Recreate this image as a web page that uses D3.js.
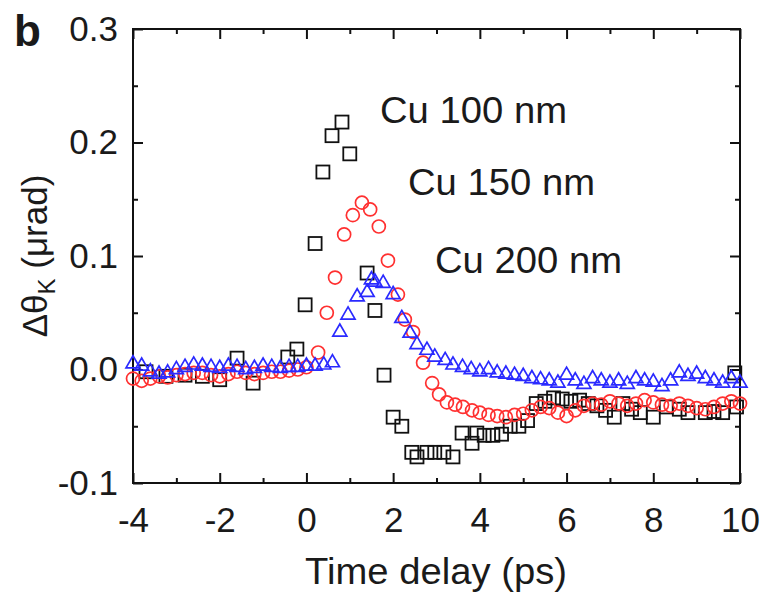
<!DOCTYPE html>
<html>
<head>
<meta charset="utf-8">
<script src="https://cdn.jsdelivr.net/npm/d3@7/dist/d3.min.js"></script>
<style>
  body { margin: 0; background: #fff; }
  svg { display: block; }
  text { font-family: "Liberation Sans", Arial, sans-serif; fill: #1a1a1a; }
</style>
</head>
<body>
<svg width="764" height="594"></svg>
<script>
// Cu 100 nm (black squares)
var t100 = [-3.7, -3.24, -2.8, -2.4, -2.0, -1.6, -1.23, -0.43, -0.22, -0.03, 0.2, 0.38, 0.59, 0.82, 1.0, 1.4, 1.58,
            1.79, 2.0, 2.2, 2.43, 2.55, 2.78, 2.96, 3.17, 3.38, 3.59, 3.82, 3.93, 4.1, 4.3, 4.5, 4.7, 4.9, 5.1,
            5.3, 5.5, 5.7, 5.9, 6.1, 6.3, 6.5, 6.7, 6.9, 7.1, 7.3, 7.5, 7.7, 8.0, 8.3, 8.6, 8.8, 9.2, 9.4, 9.6, 9.88, 9.92];
var v100 = [-0.002, -0.006, -0.005, -0.006, -0.009, 0.010, -0.012, 0.011, 0.018, 0.057, 0.111, 0.174, 0.206, 0.218, 0.190, 0.085, 0.052,
            -0.005, -0.042, -0.050, -0.073, -0.077, -0.073, -0.073, -0.073, -0.077, -0.056, -0.065, -0.056, -0.058, -0.058, -0.057, -0.050, -0.050, -0.045,
            -0.030, -0.028, -0.025, -0.026, -0.028, -0.027, -0.030, -0.032, -0.036, -0.042, -0.030, -0.035, -0.038, -0.042, -0.033, -0.035, -0.038, -0.038, -0.037, -0.038, -0.003, -0.033];

// Cu 150 nm (red circles)
var t150 = [-4.0, -3.8, -3.6, -3.4, -3.2, -3.0, -2.8, -2.6, -2.4, -2.2, -2.0, -1.8, -1.6, -1.4, -1.2, -1.0, -0.8, -0.6, -0.4, -0.2, 0.0,
            0.27, 0.47, 0.66, 0.87, 1.07, 1.28, 1.47, 1.67, 1.88, 2.11, 2.27, 2.46, 2.69, 2.9, 3.06, 3.24, 3.43, 3.61, 3.82, 4.0,
            4.2, 4.4, 4.6, 4.8, 5.0, 5.2, 5.4, 5.6, 5.8, 6.0, 6.2, 6.4, 6.6, 6.8, 7.0, 7.2, 7.4, 7.6, 7.8, 8.0, 8.2, 8.4, 8.6, 8.8, 9.0, 9.2, 9.4, 9.6, 9.8, 10.0];
var v150 = [-0.008, -0.010, -0.008, -0.006, -0.007, -0.005, -0.004, -0.003, -0.003, -0.005, -0.006, -0.004, -0.002, -0.003, -0.004, -0.003, -0.002, -0.002, -0.001, 0.000, 0.002,
            0.015, 0.050, 0.081, 0.119, 0.136, 0.147, 0.141, 0.126, 0.096, 0.066, 0.044, 0.033, 0.006, -0.012, -0.022, -0.029, -0.031, -0.033, -0.036, -0.038,
            -0.040, -0.041, -0.042, -0.040, -0.039, -0.036, -0.033, -0.034, -0.038, -0.041, -0.036, -0.032, -0.030, -0.031, -0.028, -0.030, -0.032, -0.030, -0.027, -0.029, -0.031, -0.032, -0.030, -0.032, -0.034, -0.035, -0.033, -0.030, -0.028, -0.030];

// Cu 200 nm (blue triangles)
var t200 = [-4.0, -3.8, -3.6, -3.4, -3.2, -3.0, -2.8, -2.6, -2.4, -2.2, -2.0, -1.8, -1.6, -1.4, -1.2, -1.0, -0.8, -0.6, -0.4, -0.2, 0.0, 0.2, 0.4, 0.6,
            0.77, 0.96, 1.17, 1.4, 1.5, 1.58, 1.77, 2.0, 2.2, 2.39, 2.55, 2.78, 2.96, 3.2, 3.38, 3.6, 3.8,
            4.0, 4.2, 4.4, 4.6, 4.8, 5.0, 5.2, 5.4, 5.6, 5.8, 6.0, 6.2, 6.4, 6.6, 6.8, 7.0, 7.2, 7.4, 7.6, 7.8, 8.0, 8.2, 8.4, 8.6, 8.8, 9.0, 9.2, 9.4, 9.6, 9.8, 10.0];
var v200 = [0.005, 0.003, -0.002, -0.004, -0.003, 0.000, 0.002, 0.004, 0.003, 0.002, 0.001, 0.003, 0.002, 0.000, 0.001, 0.003, 0.002, 0.001, 0.002, 0.002, 0.003, 0.003, 0.004, 0.006,
            0.033, 0.048, 0.064, 0.068, 0.079, 0.077, 0.076, 0.066, 0.045, 0.032, 0.022, 0.017, 0.011, 0.008, 0.004, 0.002, 0.000,
            -0.002, 0.000, -0.003, -0.004, -0.005, -0.006, -0.008, -0.009, -0.010, -0.012, -0.005, -0.010, -0.013, -0.008, -0.010, -0.012, -0.010, -0.013, -0.008, -0.010, -0.011, -0.015, -0.010, -0.003, -0.006, -0.004, -0.008, -0.010, -0.012, -0.008, -0.012];

var xMajor = [-4, -2, 0, 2, 4, 6, 8, 10];
var xMinor = [-3, -1, 1, 3, 5, 7, 9];
var yMajor = [-0.1, 0.0, 0.1, 0.2, 0.3];
var yMinor = [-0.05, 0.05, 0.15, 0.25];

var labels = ["Cu 100 nm", "Cu 150 nm", "Cu 200 nm"];

// plot box edges (window.top is reserved, so use prefixed names)
var pLeft = 133, pRight = 740, pTop = 29, pBottom = 483;

var svg = d3.select("svg");

var x = d3.scaleLinear().domain([-4, 10]).range([pLeft, pRight]);
var y = d3.scaleLinear().domain([-0.1, 0.3]).range([pBottom, pTop]);

// ticks, pointing inward on all four sides
function ticks(axis, vals, size, tx) {
    var g = svg.append("g")
        .attr("transform", tx)
        .call(axis.tickValues(vals).tickSize(size));
    g.select(".domain").remove();
    g.selectAll(".tick line").attr("stroke", "#111").attr("stroke-width", 2);
    return g;
}

var xb = ticks(d3.axisBottom(x).tickPadding(24).tickFormat(function(d) { return String(d); }), xMajor, -10, "translate(0," + pBottom + ")");
ticks(d3.axisBottom(x).tickFormat(""), xMinor, -5, "translate(0," + pBottom + ")");
ticks(d3.axisTop(x).tickFormat(""), xMajor, -10, "translate(0," + pTop + ")");
ticks(d3.axisTop(x).tickFormat(""), xMinor, -5, "translate(0," + pTop + ")");

var yl = ticks(d3.axisLeft(y).tickPadding(15).tickFormat(function(d) { return d.toFixed(1); }), yMajor, -10, "translate(" + pLeft + ",0)");
ticks(d3.axisLeft(y).tickFormat(""), yMinor, -5, "translate(" + pLeft + ",0)");
ticks(d3.axisRight(y).tickFormat(""), yMajor, -10, "translate(" + pRight + ",0)");
ticks(d3.axisRight(y).tickFormat(""), yMinor, -5, "translate(" + pRight + ",0)");

xb.selectAll("text").attr("font-size", 35).attr("font-family", "Liberation Sans, Arial, sans-serif").attr("fill", "#1a1a1a");
yl.selectAll("text").attr("font-size", 35).attr("font-family", "Liberation Sans, Arial, sans-serif").attr("fill", "#1a1a1a");

// frame
svg.append("rect")
    .attr("x", pLeft).attr("y", pTop)
    .attr("width", pRight - pLeft).attr("height", pBottom - pTop)
    .attr("fill", "none").attr("stroke", "#111").attr("stroke-width", 2);

// data
var d100 = t100.map(function(t, i) { return [t, v100[i]]; });
var d150 = t150.map(function(t, i) { return [t, v150[i]]; });
var d200 = t200.map(function(t, i) { return [t, v200[i]]; });

svg.append("g").selectAll("rect")
    .data(d100).enter().append("rect")
    .attr("x", function(d) { return x(d[0]) - 6.5; })
    .attr("y", function(d) { return y(d[1]) - 6.5; })
    .attr("width", 13).attr("height", 13)
    .attr("fill", "none").attr("stroke", "#111").attr("stroke-width", 1.8);

svg.append("g").selectAll("circle")
    .data(d150).enter().append("circle")
    .attr("cx", function(d) { return x(d[0]); })
    .attr("cy", function(d) { return y(d[1]); })
    .attr("r", 6.5)
    .attr("fill", "none").attr("stroke", "#ff3030").attr("stroke-width", 1.7);

var tri = d3.symbol().type(d3.symbolTriangle).size(85);
svg.append("g").selectAll("path")
    .data(d200).enter().append("path")
    .attr("d", tri)
    .attr("transform", function(d) { return "translate(" + x(d[0]) + "," + y(d[1]) + ")"; })
    .attr("fill", "none").attr("stroke", "#2a2aff").attr("stroke-width", 1.7);

// series labels
var labelPos = [[380, 123], [408, 195], [435, 273]];
svg.selectAll("text.lab")
    .data(labels).enter().append("text")
    .attr("class", "lab")
    .attr("x", function(d, i) { return labelPos[i][0]; })
    .attr("y", function(d, i) { return labelPos[i][1]; })
    .attr("font-size", 36)
    .attr("textLength", 187).attr("lengthAdjust", "spacingAndGlyphs")
    .text(function(d) { return d; });

// axis titles
svg.append("text")
    .attr("x", 305).attr("y", 584)
    .attr("font-size", 36)
    .attr("textLength", 262).attr("lengthAdjust", "spacingAndGlyphs")
    .text("Time delay (ps)");

var yt = svg.append("text")
    .attr("transform", "translate(47," + ((pTop + pBottom) / 2) + ") rotate(-90)")
    .attr("text-anchor", "middle")
    .attr("font-size", 35);
yt.append("tspan").text("Δθ");
yt.append("tspan").attr("font-size", 24).attr("dy", 8).text("K");
yt.append("tspan").attr("dy", -8).text(" (μrad)");

// panel label
svg.append("text")
    .attr("x", 14).attr("y", 46)
    .attr("font-size", 44).attr("font-weight", "bold")
    .text("b");
</script>
</body>
</html>
